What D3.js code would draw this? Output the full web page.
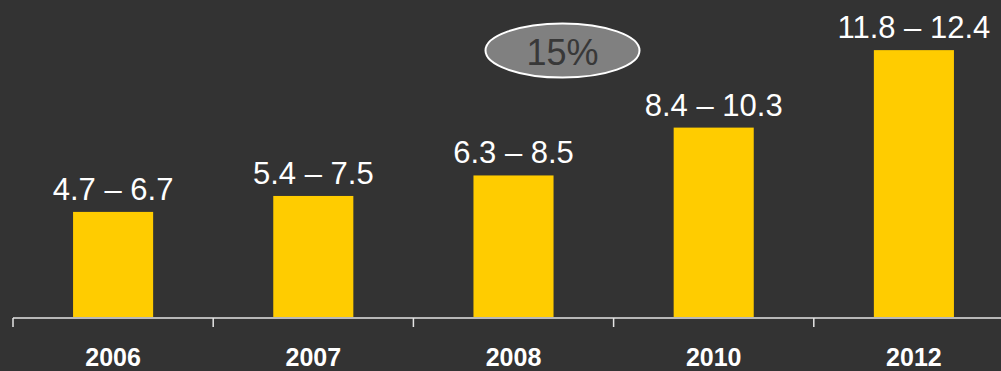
<!DOCTYPE html>
<html>
<head>
<meta charset="utf-8">
<script src="https://cdn.jsdelivr.net/npm/d3@7/dist/d3.min.js"></script>
<style>
  html, body { margin: 0; padding: 0; background: #333333; }
  svg { display: block; }
</style>
</head>
<body>
<script>
// Market size ranges by year (low – high)
const years = ["2006", "2007", "2008", "2010", "2012"];
const lowValues = [4.7, 5.4, 6.3, 8.4, 11.8];
const highValues = [6.7, 7.5, 8.5, 10.3, 12.4];
const growthLabel = "15%";

const W = 1001, H = 371;
const svg = d3.select("body").append("svg")
  .attr("width", W).attr("height", H)
  .style("background", "#333333");

const x = d3.scaleBand().domain(years).range([13, 1014]);
const y = d3.scaleLinear().domain([0, 14]).range([319, 0]);
const axisY = 318;
const barW = x.bandwidth() * 0.4;

// Bars (drawn from the low end of each range)
svg.selectAll("rect.bar")
  .data(years)
  .join("rect")
  .attr("class", "bar")
  .attr("x", (d) => x(d) + x.bandwidth() / 2 - barW / 2)
  .attr("y", (d, i) => y(lowValues[i]))
  .attr("width", barW)
  .attr("height", (d, i) => axisY - 1 - y(lowValues[i]))
  .attr("fill", "#FFCC00");

// Range labels above bars
svg.selectAll("text.val")
  .data(years)
  .join("text")
  .attr("class", "val")
  .attr("x", (d) => x(d) + x.bandwidth() / 2)
  .attr("y", (d, i) => y(lowValues[i]) - 12)
  .attr("text-anchor", "middle")
  .attr("font-family", "Liberation Sans, Arial, sans-serif")
  .attr("font-size", 31)
  .attr("fill", "#ffffff")
  .text((d, i) => `${lowValues[i]} \u2013 ${highValues[i]}`);

// Baseline with tick marks at category boundaries
svg.append("line")
  .attr("x1", x(years[0])).attr("x2", W)
  .attr("y1", axisY).attr("y2", axisY)
  .attr("stroke", "#e6e6e6").attr("stroke-width", 1.5);

svg.selectAll("line.tick")
  .data(years)
  .join("line")
  .attr("class", "tick")
  .attr("x1", (d) => x(d)).attr("x2", (d) => x(d))
  .attr("y1", axisY).attr("y2", axisY + 9)
  .attr("stroke", "#e6e6e6").attr("stroke-width", 1.5);

// Category labels
svg.selectAll("text.cat")
  .data(years)
  .join("text")
  .attr("class", "cat")
  .attr("x", (d) => x(d) + x.bandwidth() / 2)
  .attr("y", 366)
  .attr("text-anchor", "middle")
  .attr("font-family", "Liberation Sans, Arial, sans-serif")
  .attr("font-weight", "bold")
  .attr("font-size", 25)
  .attr("fill", "#ffffff")
  .text((d) => d);

// Growth rate badge
const badge = svg.append("g").attr("transform", "translate(562.5,50.5)");
badge.append("ellipse")
  .attr("rx", 77).attr("ry", 27)
  .attr("fill", "#808080")
  .attr("stroke", "#ffffff").attr("stroke-width", 2);
badge.append("text")
  .attr("y", 14)
  .attr("text-anchor", "middle")
  .attr("font-family", "Liberation Sans, Arial, sans-serif")
  .attr("font-size", 36)
  .attr("fill", "#383838")
  .text(growthLabel);
</script>
</body>
</html>
